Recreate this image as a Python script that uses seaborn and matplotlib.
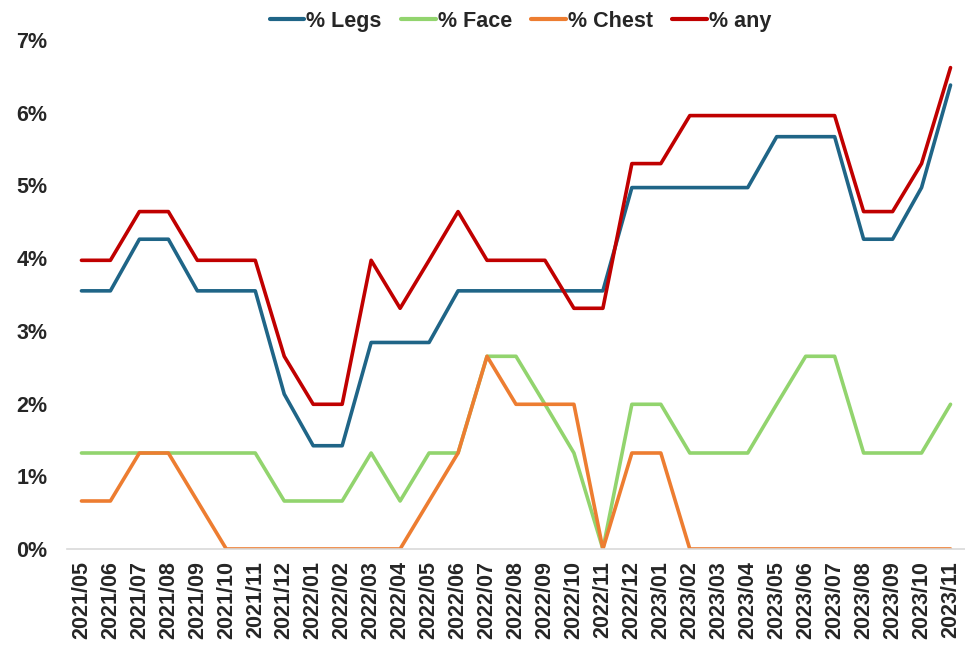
import numpy as np
import pandas as pd
import matplotlib
matplotlib.use("Agg")
import matplotlib.pyplot as plt
import seaborn as sns
from matplotlib.ticker import PercentFormatter

# =========================
# Datos
# =========================
meses = ["2021/05", "2021/06", "2021/07", "2021/08", "2021/09", "2021/10", "2021/11",
         "2021/12", "2022/01", "2022/02", "2022/03", "2022/04", "2022/05", "2022/06",
         "2022/07", "2022/08", "2022/09", "2022/10", "2022/11", "2022/12", "2023/01",
         "2023/02", "2023/03", "2023/04", "2023/05", "2023/06", "2023/07", "2023/08",
         "2023/09", "2023/10", "2023/11"]

legs = [3.55, 3.55, 4.26, 4.26, 3.55, 3.55, 3.55, 2.13, 1.42, 1.42, 2.84, 2.84, 2.84, 3.55,
        3.55, 3.55, 3.55, 3.55, 3.55, 4.97, 4.97, 4.97, 4.97, 4.97, 5.67, 5.67, 5.67, 4.26,
        4.26, 4.97, 6.38]
face = [1.32, 1.32, 1.32, 1.32, 1.32, 1.32, 1.32, 0.66, 0.66, 0.66, 1.32, 0.66, 1.32, 1.32,
        2.65, 2.65, 1.99, 1.32, 0.0, 1.99, 1.99, 1.32, 1.32, 1.32, 1.99, 2.65, 2.65, 1.32,
        1.32, 1.32, 1.99]
chest = [0.66, 0.66, 1.32, 1.32, 0.66, 0.0, 0.0, 0.0, 0.0, 0.0, 0.0, 0.0, 0.66, 1.32,
         2.65, 1.99, 1.99, 1.99, 0.0, 1.32, 1.32, 0.0, 0.0, 0.0, 0.0, 0.0, 0.0, 0.0,
         0.0, 0.0, 0.0]
any_ = [3.97, 3.97, 4.64, 4.64, 3.97, 3.97, 3.97, 2.65, 1.99, 1.99, 3.97, 3.31, 3.97, 4.64,
        3.97, 3.97, 3.97, 3.31, 3.31, 5.30, 5.30, 5.96, 5.96, 5.96, 5.96, 5.96, 5.96, 4.64,
        4.64, 5.30, 6.62]

series = ["% Legs", "% Face", "% Chest", "% any"]
colores = {"% Legs": "#1F6587", "% Face": "#92D46E", "% Chest": "#ED7D31", "% any": "#C00000"}

df = pd.DataFrame({
    "idx": np.arange(len(meses)),
    "% Legs": np.array(legs) / 100,
    "% Face": np.array(face) / 100,
    "% Chest": np.array(chest) / 100,
    "% any": np.array(any_) / 100,
})
largo = df.melt(id_vars="idx", value_vars=series, var_name="serie", value_name="valor")

# =========================
# Gráfico
# =========================
sns.set_style("white")
plt.rcParams["font.family"] = ["Liberation Sans", "DejaVu Sans"]

fig = plt.figure(figsize=(9.65, 6.5), dpi=100)
ax = fig.add_axes([0.0694, 0.1554, 0.9306, 0.7831])

sns.lineplot(data=largo, x="idx", y="valor", hue="serie", hue_order=series,
             palette=colores, linewidth=2.6, ax=ax)

ax.set_xlim(-0.5, len(meses) - 0.5)
ax.set_ylim(0, 0.07)
ax.set_yticks(np.arange(0, 0.071, 0.01))
ax.yaxis.set_major_formatter(PercentFormatter(1.0, decimals=0))
ax.set_xticks(df["idx"])
ax.set_xticklabels(meses, rotation=90)
ax.set_xlabel("")
ax.set_ylabel("")

for lbl in ax.get_xticklabels() + ax.get_yticklabels():
    lbl.set_fontweight("bold")
    lbl.set_fontsize(15.5)
ax.tick_params(axis="y", length=0, pad=14)
ax.tick_params(axis="x", length=0, pad=9)

for s in ["top", "right", "left"]:
    ax.spines[s].set_visible(False)
ax.spines["bottom"].set_color("#D9D9D9")
ax.spines["bottom"].set_linewidth(1.2)

leg = ax.legend(loc="center", bbox_to_anchor=(0.505, 1.037), ncol=4, frameon=False,
                handlelength=1.6, handletextpad=0.1, columnspacing=0.9,
                prop={"weight": "bold", "size": 15.5})
for h in leg.get_lines():
    h.set_linewidth(3)

fig.savefig("out.png", dpi=100)
